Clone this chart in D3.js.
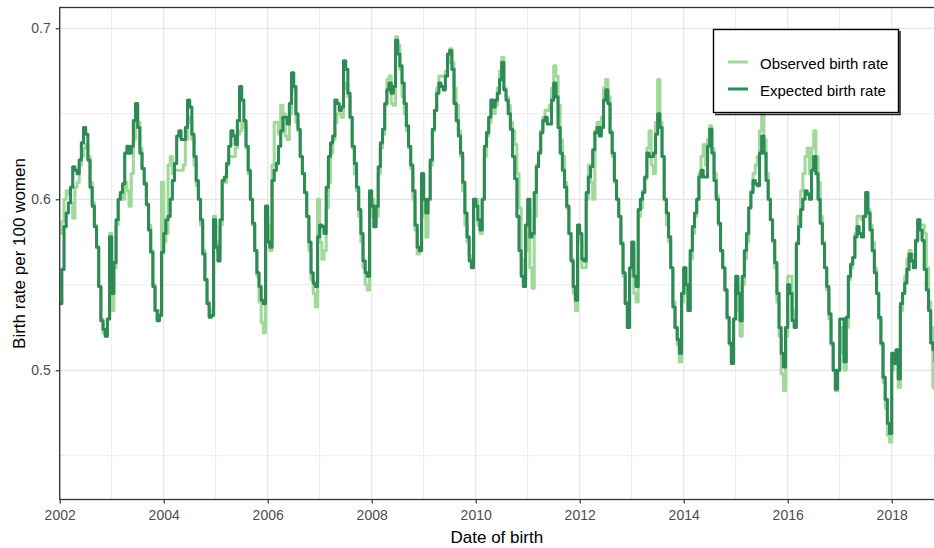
<!DOCTYPE html>
<html>
<head>
<meta charset="utf-8">
<script src="https://cdnjs.cloudflare.com/ajax/libs/d3/7.8.5/d3.min.js"></script>
<style>
  body { margin: 0; background: #fff; }
  svg text { font-family: "Liberation Sans", Arial, sans-serif; }
</style>
</head>
<body>
<div id="grafico"></div>
<script>
// semi-monthly values, 24 per year starting at 2002-01
const startYear = 2002;
const stepsPerYear = 24;

const expectedRate = [
  0.539,0.559,0.584,0.592,0.598,0.607,0.619,0.617,0.615,0.623,0.633,0.642,0.638,0.623,0.607,0.596,0.584,0.572,0.549,0.529,0.524,0.520,0.530,0.578, // 2002
  0.545,0.563,0.588,0.600,0.604,0.609,0.627,0.631,0.627,0.631,0.646,0.656,0.642,0.627,0.618,0.609,0.597,0.582,0.569,0.549,0.535,0.529,0.532,0.569, // 2003
  0.580,0.588,0.590,0.600,0.611,0.621,0.637,0.640,0.635,0.635,0.642,0.658,0.654,0.638,0.625,0.611,0.600,0.588,0.568,0.553,0.539,0.531,0.532,0.588, // 2004
  0.572,0.564,0.588,0.611,0.613,0.621,0.631,0.640,0.637,0.632,0.646,0.666,0.658,0.646,0.631,0.617,0.600,0.586,0.570,0.557,0.549,0.541,0.539,0.596, // 2005
  0.575,0.572,0.611,0.617,0.621,0.631,0.640,0.648,0.648,0.644,0.656,0.674,0.666,0.650,0.641,0.625,0.615,0.604,0.590,0.575,0.557,0.551,0.549,0.578, // 2006
  0.585,0.584,0.580,0.607,0.625,0.633,0.637,0.658,0.656,0.652,0.654,0.681,0.676,0.662,0.648,0.631,0.621,0.607,0.594,0.580,0.564,0.557,0.555,0.605, // 2007
  0.596,0.584,0.596,0.619,0.633,0.641,0.656,0.664,0.668,0.662,0.666,0.693,0.685,0.678,0.668,0.656,0.643,0.631,0.620,0.605,0.585,0.572,0.570,0.615, // 2008
  0.600,0.592,0.600,0.623,0.641,0.652,0.662,0.668,0.666,0.664,0.672,0.685,0.687,0.676,0.656,0.646,0.637,0.627,0.610,0.592,0.578,0.564,0.560,0.600, // 2009
  0.596,0.588,0.582,0.600,0.631,0.639,0.648,0.658,0.654,0.658,0.662,0.670,0.680,0.664,0.658,0.650,0.641,0.625,0.612,0.590,0.570,0.555,0.549,0.585, // 2010
  0.600,0.578,0.580,0.604,0.619,0.627,0.639,0.646,0.648,0.644,0.644,0.658,0.668,0.660,0.642,0.627,0.617,0.607,0.596,0.580,0.564,0.549,0.541,0.585, // 2011
  0.580,0.565,0.564,0.604,0.613,0.619,0.629,0.639,0.642,0.637,0.642,0.658,0.664,0.656,0.639,0.627,0.611,0.600,0.590,0.574,0.557,0.539,0.525,0.560, // 2012
  0.575,0.555,0.549,0.594,0.600,0.604,0.613,0.627,0.625,0.625,0.627,0.638,0.650,0.642,0.625,0.600,0.592,0.578,0.560,0.537,0.525,0.518,0.510,0.545, // 2013
  0.560,0.550,0.535,0.570,0.584,0.592,0.600,0.613,0.617,0.613,0.613,0.631,0.641,0.627,0.611,0.600,0.586,0.570,0.560,0.547,0.531,0.516,0.504,0.530, // 2014
  0.555,0.545,0.529,0.555,0.570,0.580,0.595,0.604,0.611,0.609,0.608,0.627,0.637,0.627,0.611,0.600,0.588,0.576,0.563,0.545,0.525,0.510,0.502,0.525, // 2015
  0.550,0.545,0.529,0.525,0.574,0.584,0.594,0.600,0.605,0.603,0.600,0.617,0.625,0.615,0.600,0.586,0.574,0.560,0.549,0.533,0.516,0.500,0.489,0.500, // 2016
  0.530,0.530,0.505,0.531,0.555,0.562,0.566,0.578,0.584,0.580,0.578,0.590,0.604,0.592,0.582,0.570,0.557,0.545,0.531,0.516,0.496,0.483,0.469,0.463, // 2017
  0.510,0.504,0.512,0.495,0.539,0.545,0.551,0.559,0.568,0.564,0.560,0.576,0.588,0.582,0.576,0.559,0.547,0.535,0.516,0.512,0.505              // 2018
];

const observedRate = [
  0.580,0.587,0.600,0.605,0.603,0.598,0.589,0.607,0.610,0.620,0.625,0.630,0.632,0.625,0.610,0.598,0.585,0.572,0.549,0.530,0.522,0.520,0.530,0.580, // 2002
  0.535,0.560,0.585,0.600,0.603,0.600,0.610,0.605,0.596,0.615,0.635,0.645,0.645,0.630,0.618,0.610,0.597,0.585,0.570,0.550,0.535,0.530,0.535,0.610, // 2003
  0.575,0.580,0.620,0.625,0.615,0.617,0.617,0.617,0.617,0.620,0.635,0.645,0.648,0.635,0.620,0.608,0.600,0.585,0.570,0.553,0.540,0.532,0.535,0.590, // 2004
  0.575,0.570,0.585,0.610,0.610,0.620,0.625,0.625,0.625,0.630,0.638,0.640,0.645,0.642,0.630,0.615,0.600,0.585,0.570,0.555,0.540,0.528,0.522,0.590, // 2005
  0.585,0.570,0.620,0.645,0.645,0.638,0.655,0.650,0.637,0.635,0.650,0.664,0.664,0.645,0.640,0.625,0.615,0.604,0.590,0.570,0.553,0.545,0.537,0.600, // 2006
  0.575,0.565,0.570,0.595,0.610,0.627,0.635,0.645,0.650,0.650,0.648,0.665,0.668,0.660,0.648,0.630,0.615,0.605,0.590,0.575,0.560,0.550,0.547,0.590, // 2007
  0.600,0.585,0.590,0.615,0.630,0.638,0.655,0.670,0.672,0.656,0.655,0.695,0.690,0.676,0.660,0.650,0.640,0.630,0.618,0.600,0.582,0.568,0.570,0.600, // 2008
  0.590,0.578,0.600,0.620,0.640,0.652,0.665,0.672,0.672,0.672,0.675,0.680,0.688,0.680,0.665,0.655,0.640,0.625,0.605,0.585,0.575,0.567,0.565,0.600, // 2009
  0.600,0.585,0.580,0.600,0.625,0.637,0.645,0.655,0.650,0.655,0.665,0.675,0.683,0.665,0.660,0.655,0.645,0.640,0.632,0.615,0.595,0.565,0.553,0.570, // 2010
  0.595,0.560,0.548,0.590,0.620,0.628,0.640,0.648,0.652,0.652,0.655,0.665,0.678,0.672,0.655,0.635,0.625,0.610,0.595,0.580,0.565,0.545,0.535,0.580, // 2011
  0.575,0.560,0.560,0.600,0.620,0.610,0.600,0.640,0.645,0.640,0.648,0.665,0.670,0.660,0.640,0.625,0.610,0.600,0.590,0.575,0.555,0.540,0.525,0.555, // 2012
  0.570,0.545,0.540,0.590,0.595,0.605,0.612,0.630,0.640,0.620,0.615,0.645,0.670,0.645,0.625,0.600,0.585,0.575,0.560,0.540,0.525,0.515,0.505,0.540, // 2013
  0.560,0.545,0.535,0.565,0.580,0.590,0.600,0.615,0.625,0.632,0.620,0.635,0.643,0.630,0.615,0.602,0.585,0.570,0.560,0.547,0.530,0.515,0.505,0.530, // 2014
  0.550,0.535,0.520,0.550,0.565,0.575,0.595,0.605,0.615,0.620,0.625,0.640,0.650,0.635,0.615,0.600,0.588,0.575,0.560,0.540,0.520,0.498,0.488,0.520, // 2015
  0.555,0.555,0.535,0.530,0.575,0.590,0.605,0.615,0.625,0.630,0.615,0.630,0.640,0.625,0.610,0.590,0.575,0.560,0.547,0.530,0.515,0.500,0.488,0.500, // 2016
  0.510,0.525,0.500,0.525,0.553,0.560,0.566,0.580,0.590,0.590,0.588,0.590,0.604,0.594,0.585,0.575,0.560,0.545,0.530,0.515,0.493,0.478,0.462,0.458, // 2017
  0.500,0.505,0.510,0.490,0.535,0.545,0.555,0.565,0.570,0.568,0.565,0.575,0.588,0.585,0.585,0.580,0.560,0.540,0.525,0.490,0.488              // 2018
];

const xTicks = [2002, 2004, 2006, 2008, 2010, 2012, 2014, 2016, 2018];
const xMinor = [2003, 2005, 2007, 2009, 2011, 2013, 2015, 2017];
const yTicks = [0.5, 0.6, 0.7];
const yMinor = [0.45, 0.55, 0.65];
const seriesNames = ["Observed birth rate", "Expected birth rate"];
const seriesColors = ["#a1d99b", "#2e8b57"];

function toPoints(values){
    return values.map((v, i) => ({date: startYear + i / stepsPerYear, value: v}));
}

function drawChart(){
    const width = 934, height = 548;
    const left = 59.7, right = 934, top = 7.5, bottom = 499.5;

    const svg = d3.select("#grafico").append("svg")
        .attr("width", width)
        .attr("height", height);

    svg.append("rect").attr("width", width).attr("height", height).attr("fill", "#fff");

    const x = d3.scaleLinear().domain([2002, 2002 + (right - left) / 52]).range([left, right]);
    const y = d3.scaleLinear().domain([0.42444, 0.71216]).range([bottom, top]);

    svg.append("defs").append("clipPath").attr("id", "panel")
        .append("rect").attr("x", left).attr("y", top)
        .attr("width", right - left).attr("height", bottom - top);

    const grid = svg.append("g");
    grid.selectAll(".vminor").data(xMinor).join("line")
        .attr("x1", d => x(d)).attr("x2", d => x(d))
        .attr("y1", top).attr("y2", bottom)
        .attr("stroke", "#ebebeb").attr("stroke-width", 1);
    grid.selectAll(".hminor").data(yMinor).join("line")
        .attr("x1", left).attr("x2", right)
        .attr("y1", d => y(d)).attr("y2", d => y(d))
        .attr("stroke", "#ebebeb").attr("stroke-width", 1);
    grid.selectAll(".vmajor").data(xTicks).join("line")
        .attr("x1", d => x(d)).attr("x2", d => x(d))
        .attr("y1", top).attr("y2", bottom)
        .attr("stroke", "#e6e6e6").attr("stroke-width", 1.3);
    grid.selectAll(".hmajor").data(yTicks).join("line")
        .attr("x1", left).attr("x2", right)
        .attr("y1", d => y(d)).attr("y2", d => y(d))
        .attr("stroke", "#e6e6e6").attr("stroke-width", 1.3);

    const line = d3.line()
        .x(d => x(d.date))
        .y(d => y(d.value))
        .curve(d3.curveStepAfter);

    const lines = svg.append("g").attr("clip-path", "url(#panel)");
    [observedRate, expectedRate].forEach((serie, i) => {
        lines.append("path")
            .datum(toPoints(serie))
            .attr("d", line)
            .attr("fill", "none")
            .attr("stroke", seriesColors[i])
            .attr("stroke-width", 3.1)
            .attr("stroke-linejoin", "round");
    });

    // panel border
    svg.append("rect")
        .attr("x", left).attr("y", top)
        .attr("width", right - left + 20).attr("height", bottom - top)
        .attr("fill", "none").attr("stroke", "#333").attr("stroke-width", 1.3);

    const ejeX = svg.append("g")
        .attr("transform", `translate(0,${bottom})`)
        .call(d3.axisBottom(x).tickValues(xTicks).tickFormat(d3.format("d")).tickSize(4).tickPadding(7));
    const ejeY = svg.append("g")
        .attr("transform", `translate(${left},0)`)
        .call(d3.axisLeft(y).tickValues(yTicks).tickFormat(d3.format(".1f")).tickSize(4).tickPadding(5));

    [ejeX, ejeY].forEach(eje => {
        eje.select(".domain").remove();
        eje.selectAll(".tick line").attr("stroke", "#333").attr("stroke-width", 1.2);
        eje.selectAll(".tick text")
            .attr("fill", "#4d4d4d")
            .style("font-size", "14px")
            .style("font-family", "'Liberation Sans', Arial, sans-serif");
    });

    svg.append("text")
        .attr("x", (left + right) / 2).attr("y", 543)
        .attr("text-anchor", "middle")
        .style("font-size", "17px")
        .attr("fill", "#000")
        .text("Date of birth");

    svg.append("text")
        .attr("transform", `translate(24.5,${(top + bottom) / 2}) rotate(-90)`)
        .attr("text-anchor", "middle")
        .style("font-size", "17px")
        .attr("fill", "#000")
        .text("Birth rate per 100 women");

    // legend
    const leyenda = svg.append("g");
    leyenda.append("path")
        .attr("d", "M900,31 V114.5 H715")
        .attr("fill", "none").attr("stroke", "#222").attr("stroke-width", 1.5);
    leyenda.append("rect")
        .attr("x", 713.5).attr("y", 29.5).attr("width", 185).attr("height", 83)
        .attr("fill", "#fff").attr("stroke", "#000").attr("stroke-width", 1.4);

    seriesNames.forEach((nombre, i) => {
        const yy = 62 + i * 27;
        leyenda.append("line")
            .attr("x1", 728).attr("x2", 748).attr("y1", yy).attr("y2", yy)
            .attr("stroke", seriesColors[i]).attr("stroke-width", 3);
        leyenda.append("text")
            .attr("x", 760).attr("y", yy + 7)
            .style("font-size", "15px")
            .attr("fill", "#000")
            .text(nombre);
    });
}

drawChart();
</script>
</body>
</html>
